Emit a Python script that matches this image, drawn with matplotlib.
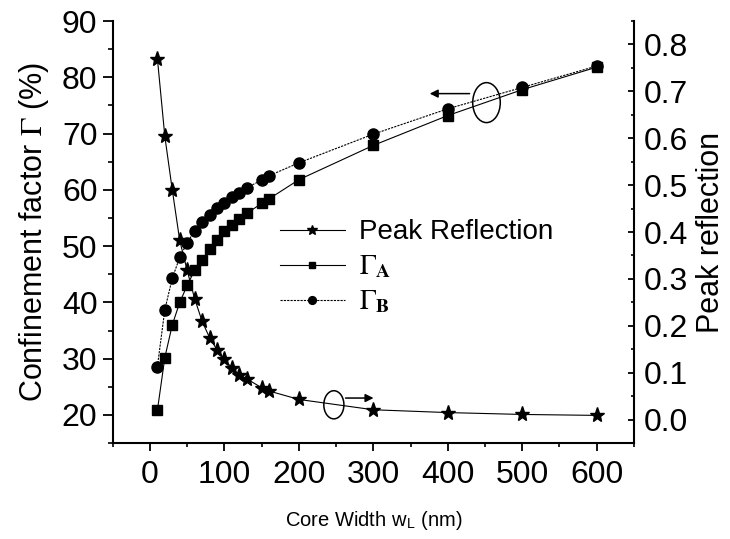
import matplotlib
matplotlib.use("Agg")
import matplotlib.pyplot as plt
from matplotlib.patches import Ellipse
from matplotlib.ticker import MultipleLocator

plt.rcParams["font.family"] = ["Liberation Sans", "DejaVu Sans"]
plt.rcParams["mathtext.fontset"] = "stix"

# ── data ──────────────────────────────────────
width_nm = [10, 20, 30, 40, 50, 60, 70, 80, 90, 100, 110, 120, 130, 150, 160,
            200, 300, 400, 500, 600]

peak_reflection = [0.770, 0.604, 0.490, 0.382, 0.318, 0.258, 0.210, 0.175, 0.149,
                   0.129, 0.110, 0.096, 0.087, 0.068, 0.061, 0.043, 0.021, 0.015,
                   0.011, 0.009]

gamma_a = [20.8, 30.2, 36.0, 40.0, 43.0, 45.7, 47.6, 49.4, 51.0, 52.7, 53.8, 54.8,
           55.8, 57.6, 58.4, 61.8, 67.9, 73.2, 77.8, 81.8]

gamma_b = [28.6, 38.7, 44.3, 48.0, 50.6, 52.7, 54.2, 55.6, 56.7, 57.7, 58.7, 59.5,
           60.4, 61.7, 62.5, 64.8, 69.9, 74.4, 78.2, 82.0]

# ── figure ────────────────────────────────────
fig = plt.figure(figsize=(7.30, 5.39), dpi=100)
ax = fig.add_axes([0.1544, 0.178, 0.714, 0.783])
ax2 = ax.twinx()

l_a, = ax.plot(width_nm, gamma_a, color="black", lw=0.8, marker="s", ms=7,
               label=r"$\Gamma_{\mathbf{A}}$")
l_b, = ax.plot(width_nm, gamma_b, color="black", lw=0.8, ls=(0, (2, 1)),
               marker="o", ms=8, label=r"$\Gamma_{\mathbf{B}}$")
l_r, = ax2.plot(width_nm, peak_reflection, color="black", lw=0.8, marker="*",
                ms=11, label="Peak Reflection")

ax.set_xlim(-50, 650)
ax.set_ylim(15, 90)
ax2.set_ylim(-0.05, 0.85)

ax.xaxis.set_major_locator(MultipleLocator(100))
ax.xaxis.set_minor_locator(MultipleLocator(50))
ax.yaxis.set_major_locator(MultipleLocator(10))
ax.yaxis.set_minor_locator(MultipleLocator(5))
ax2.yaxis.set_major_locator(MultipleLocator(0.1))
ax2.yaxis.set_minor_locator(MultipleLocator(0.05))
ax2.yaxis.set_major_formatter(matplotlib.ticker.FormatStrFormatter("%.1f"))

for a in (ax, ax2):
    a.spines["top"].set_visible(False)
    for s in ("left", "right", "bottom"):
        a.spines[s].set_linewidth(1.5)
ax.spines["right"].set_visible(False)
ax2.spines["left"].set_visible(False)
ax2.spines["bottom"].set_visible(False)

ax.tick_params(axis="y", which="major", direction="out", length=7, width=1.3,
               labelsize=23, pad=4)
ax.tick_params(axis="y", which="minor", direction="out", length=3.5, width=1.2)
ax.tick_params(axis="x", which="major", direction="out", length=6, width=1.3,
               labelsize=23, pad=6)
ax.tick_params(axis="x", which="minor", direction="out", length=3, width=1.2)
ax2.tick_params(axis="y", which="major", direction="in", length=4, width=1.3,
                labelsize=23, pad=7)
ax2.tick_params(axis="y", which="minor", direction="in", length=2.5, width=1.2)

ax.set_ylabel(r"Confinement factor $\Gamma$ (%)", fontsize=22, labelpad=8)
ax2.set_ylabel("Peak reflection", fontsize=22, labelpad=6)
ax.set_xlabel(r"Core Width w$_\mathregular{L}$ (nm)", fontsize=14.5, labelpad=14)

# ellipses + arrows marking which axis each curve uses
ax.add_patch(Ellipse((452, 75.5), 37, 7.1, fill=False, lw=1.1, color="black"))
ax.annotate("", xy=(372, 77.1), xytext=(433, 77.1),
            arrowprops=dict(arrowstyle="-|>", color="black", lw=1.1,
                            mutation_scale=12))
ax.add_patch(Ellipse((247, 21.8), 27, 5.0, fill=False, lw=1.1, color="black"))
ax.annotate("", xy=(304, 23.0), xytext=(259, 23.0),
            arrowprops=dict(arrowstyle="-|>", color="black", lw=1.1,
                            mutation_scale=12))

leg = ax2.legend(handles=[l_r, l_a, l_b], loc="upper left",
                 bbox_to_anchor=(0.32, 0.53), frameon=False, fontsize=20,
                 handlelength=2.35, handletextpad=0.5, labelspacing=0.3,
                 borderaxespad=0, borderpad=0, markerscale=0.7)

fig.savefig("out.png", dpi=100)
